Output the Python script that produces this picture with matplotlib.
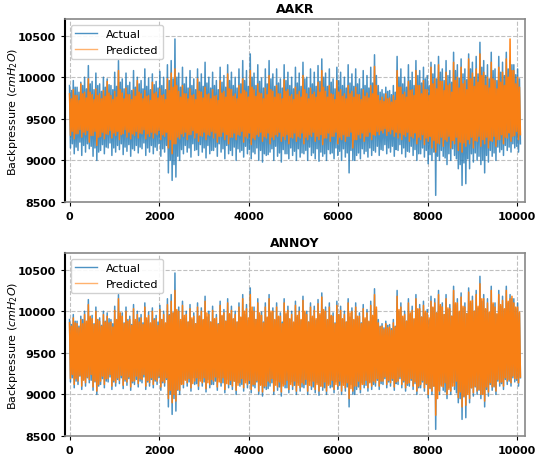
import numpy as np
import matplotlib
matplotlib.use('Agg')
import matplotlib.pyplot as plt

# last sample index on the x axis
n_samples = 10075

# measured backpressure (same in both panels): outer peak/trough per bin
actual_hi = [9900, 9960, 9880, 9940, 10000, 10140,
             9950, 10050, 9920, 10000, 9980, 9900, 10060,
             10200,
             9980, 10050, 9940, 10080, 10000, 9960, 10100, 9990, 10040, 9950, 10070, 10000, 10150,
             10200, 10460, 10050,
             10120, 10000, 10080, 9980, 10100, 10040, 10180, 10000, 10060, 9960, 10120, 10020, 10150, 10060, 10000, 10100, 10200, 10080,
             10280,
             10050, 10150, 9990, 10100, 10200, 10040, 10100, 9980, 10150, 10060, 10000, 10120, 10050, 10180, 10000, 10100, 10060, 10140,
             10220,
             10050, 10100, 9980, 10120, 10060, 10000, 10150, 10040, 10100, 9980, 10080, 10020, 10120,
             10270,
             9900, 9850, 9880, 9840, 9900,
             10250,
             10100, 10000, 10150, 10060, 10200, 10080, 10120, 10020, 10180,
             10150, 10250, 10100, 10200, 10080, 10300, 10150, 10220, 10100, 10280, 10180, 10250, 10420,
             10200, 10150, 10300, 10100, 10250, 10180, 10300, 10200, 10150, 10100]
actual_lo = [9150, 9080, 9120, 9060, 9100, 9140, 9050,
             9000,
             9120, 9080, 9150, 9060, 9100, 9130, 9070, 9110, 9050, 9120, 9090, 9140, 9060, 9100, 9080, 9120, 9050, 9100,
             8850, 8760, 8800,
             9000, 9080, 9100, 9040, 9120, 9060, 9100, 9030, 9080, 9120, 9050, 9100, 9020, 9080, 9060, 9000, 9100, 9040, 9080,
             9020, 9080, 9000, 8980, 9060, 9100, 9000, 9050, 8980, 9080, 9020, 9060, 9000, 9040, 9080, 9000, 9060, 9020, 8990,
             9050, 9000, 9080, 9020, 9060, 9000, 9040, 8850, 9000, 9060, 9020, 9080, 9040, 9060,
             9100, 9060, 9120, 9080, 9100, 9050, 9120, 9080, 9040, 9100, 9060, 9000, 9080, 9040, 8960, 9000,
             8580, 9000, 9050, 8950, 9000, 9060, 8900, 8700, 8720, 8900, 8980, 9000, 8950, 8850, 8980,
             9050, 9000, 9100, 9060, 9120, 9100, 9150, 9100]
# inner swing per bin
actual_hi2 = [9840, 9880, 9820, 9900, 9860, 9920, 9850, 9900, 9830, 9880, 9910, 9850, 9890, 9940, 9860,
              9900, 9840, 9880, 9920, 9860, 9890, 9850, 9910, 9870, 9900, 9850, 9960, 9980, 10000, 9880,
              9920, 9870, 9900, 9850, 9940, 9890, 9930, 9870, 9900, 9850, 9940, 9880, 9960, 9900, 9870,
              9920, 9960, 9890, 10000, 9900, 9950, 9870, 9920, 9980, 9890, 9930, 9870, 9960, 9900, 9860,
              9930, 9890, 9980, 9870, 9920, 9890, 9950, 10000, 9890, 9940, 9860, 9960, 9900, 9870, 9930,
              9890, 9920, 9860, 9900, 9870, 9930, 10020, 9820, 9800, 9830, 9790, 9820, 10000, 9920, 9880,
              9960, 9900, 10020, 9930, 9980, 9900, 10040, 9980, 10060, 9960, 10020, 9940, 10080, 9990, 10040,
              9970, 10100, 10000, 10040, 10120, 10020, 9980, 10080, 9960, 10060, 10020, 10100, 10150, 10030, 9980]
actual_lo2 = [9200, 9160, 9220, 9180, 9200, 9170, 9150, 9100, 9190, 9160, 9210, 9150, 9180, 9200, 9160,
              9190, 9140, 9180, 9160, 9210, 9150, 9180, 9160, 9200, 9140, 9180, 9000, 8950, 9050, 9130,
              9180, 9150, 9200, 9130, 9190, 9150, 9180, 9120, 9160, 9200, 9140, 9180, 9120, 9160, 9140,
              9120, 9170, 9130, 9100, 9150, 9120, 9080, 9070, 9140, 9170, 9090, 9130, 9080, 9150, 9110,
              9140, 9090, 9120, 9160, 9090, 9140, 9100, 9080, 9130, 9090, 9150, 9110, 9140, 9090, 9120,
              9000, 9090, 9140, 9110, 9150, 9120, 9170, 9130, 9190, 9150, 9170, 9130, 9190, 9150, 9110,
              9170, 9130, 9080, 9150, 9120, 9070, 9100, 9050, 9120, 9030, 9080, 9140, 9020, 8950, 8970,
              9020, 9080, 9090, 9050, 9000, 9060, 9120, 9090, 9160, 9130, 9180, 9160, 9200, 9170, 9200]

# AAKR prediction
aakr_hi = [9800, 9850, 9780, 9920, 9820, 9980, 9790, 9860, 9800, 9840, 9950, 9780, 9830, 10080, 9810,
           9870, 9790, 9850, 9960, 9800, 9840, 9780, 9940, 9820, 9860, 9790, 9980, 10050, 10100, 9830,
           9900, 9800, 9860, 9790, 9980, 9820, 9880, 9800, 9850, 9780, 9960, 9830, 10040, 9850, 9800,
           9900, 9980, 9820, 10080, 9850, 9920, 9800, 9870, 10020, 9830, 9900, 9800, 9970, 9850, 9790,
           9880, 9830, 10020, 9800, 9870, 9820, 9940, 10080, 9830, 9900, 9790, 9960, 9850, 9800, 9900,
           9830, 9880, 9790, 9850, 9810, 9900, 10130, 9780, 9760, 9800, 9750, 9780, 10080, 9880, 9820,
           9950, 9850, 10080, 9900, 9960, 9850, 10120, 9980, 10150, 9950, 10060, 9920, 10180, 10000, 10120,
           9960, 10220, 10050, 10100, 10280, 10060, 10000, 10180, 9960, 10120, 10060, 10220, 10460, 10080, 10000]
aakr_lo = [9300, 9260, 9320, 9280, 9310, 9220, 9300, 9180, 9290, 9260, 9310, 9270, 9300, 9250, 9320,
           9280, 9260, 9300, 9270, 9320, 9260, 9290, 9270, 9310, 9250, 9290, 9150, 9080, 9200, 9260,
           9290, 9250, 9310, 9270, 9230, 9290, 9250, 9300, 9270, 9220, 9290, 9250, 9200, 9280, 9250,
           9300, 9220, 9270, 9190, 9250, 9290, 9230, 9270, 9200, 9250, 9290, 9230, 9250, 9200, 9270,
           9230, 9270, 9200, 9250, 9290, 9230, 9250, 9190, 9270, 9230, 9290, 9200, 9250, 9230, 9290,
           9150, 9250, 9270, 9230, 9290, 9250, 9300, 9310, 9330, 9300, 9320, 9290, 9270, 9250, 9290,
           9230, 9270, 9200, 9250, 9190, 9230, 9150, 9100, 9200, 9170, 9230, 9150, 9200, 9120, 9100,
           9170, 9200, 9150, 9230, 9170, 9200, 9150, 9230, 9170, 9250, 9200, 9270, 9230, 9300, 9250]
aakr_hi2 = [9740, 9780, 9720, 9800, 9750, 9820, 9730, 9780, 9740, 9770, 9810, 9730, 9760, 9850, 9740,
            9790, 9730, 9770, 9820, 9740, 9770, 9720, 9800, 9750, 9780, 9730, 9840, 9880, 9900, 9760,
            9800, 9740, 9780, 9730, 9830, 9750, 9790, 9740, 9770, 9720, 9810, 9760, 9860, 9770, 9740,
            9800, 9840, 9760, 9880, 9770, 9810, 9740, 9790, 9850, 9760, 9800, 9740, 9830, 9770, 9730,
            9790, 9760, 9850, 9740, 9790, 9760, 9820, 9880, 9760, 9800, 9730, 9820, 9770, 9740, 9800,
            9760, 9790, 9730, 9770, 9750, 9800, 9900, 9720, 9710, 9740, 9700, 9720, 9880, 9790, 9760,
            9840, 9780, 9900, 9800, 9850, 9780, 9920, 9860, 9950, 9840, 9900, 9820, 9960, 9870, 9920,
            9850, 9980, 9890, 9940, 10020, 9900, 9870, 9980, 9860, 9940, 9900, 10000, 10080, 9920, 9880]
aakr_lo2 = [9350, 9320, 9370, 9340, 9360, 9300, 9350, 9280, 9340, 9320, 9360, 9330, 9350, 9310, 9370,
            9340, 9320, 9350, 9330, 9370, 9320, 9340, 9330, 9360, 9310, 9340, 9250, 9200, 9280, 9320,
            9340, 9310, 9360, 9330, 9300, 9340, 9310, 9350, 9330, 9290, 9340, 9310, 9280, 9330, 9310,
            9350, 9290, 9330, 9270, 9310, 9340, 9290, 9330, 9280, 9310, 9340, 9290, 9310, 9280, 9330,
            9290, 9330, 9280, 9310, 9340, 9290, 9310, 9270, 9330, 9290, 9340, 9280, 9310, 9290, 9340,
            9250, 9310, 9330, 9290, 9340, 9310, 9350, 9360, 9380, 9350, 9370, 9340, 9330, 9310, 9340,
            9290, 9330, 9280, 9310, 9270, 9290, 9240, 9210, 9280, 9250, 9290, 9240, 9280, 9220, 9210,
            9250, 9280, 9240, 9290, 9250, 9280, 9240, 9290, 9250, 9310, 9280, 9330, 9290, 9350, 9310]

# ANNOY prediction
annoy_hi = [9860, 9920, 9850, 9900, 9960, 10080,
            9910, 10000, 9880, 9960, 9940, 9870, 10010,
            10150,
            9940, 10000, 9900, 10030, 9960, 9920, 10050, 9950, 10000, 9910, 10020, 9960, 10080,
            10120, 10250, 10000,
            10070, 9960, 10030, 9940, 10050, 10000, 10120, 9960, 10010, 9920, 10070, 9980, 10100, 10010, 9960, 10050, 10150, 10030,
            10200,
            10000, 10100, 9950, 10050, 10150, 10000, 10050, 9940, 10100, 10010, 9960, 10070, 10000, 10130, 9960, 10050, 10010, 10090,
            10170,
            10000, 10050, 9940, 10070, 10010, 9960, 10100, 10000, 10050, 9940, 10030, 9980, 10070,
            10200,
            9860, 9820, 9850, 9810, 9860,
            10180,
            10050, 9960, 10100, 10010, 10150, 10030, 10070, 9980, 10120,
            10100, 10200, 10050, 10150, 10030, 10250, 10100, 10170, 10050, 10230, 10130, 10200, 10330,
            10150, 10100, 10250, 10050, 10200, 10130, 10250, 10150, 10100, 10050]
annoy_lo = [9190, 9120, 9160, 9100, 9140, 9180, 9090,
            9040,
            9160, 9120, 9190, 9100, 9140, 9170, 9110, 9150, 9090, 9160, 9130, 9180, 9100, 9140, 9120, 9160, 9090, 9140,
            8950, 8900, 8920,
            9050, 9120, 9140, 9080, 9160, 9100, 9140, 9070, 9120, 9160, 9090, 9140, 9060, 9120, 9100, 9050, 9140, 9080, 9120,
            9060, 9120, 9040, 9030, 9100, 9140, 9040, 9090, 9030, 9120, 9060, 9100, 9040, 9080, 9120, 9040, 9100, 9060, 9040,
            9090, 9040, 9120, 9060, 9100, 9040, 9080, 8950, 9040, 9100, 9060, 9120, 9080, 9100,
            9140, 9100, 9160, 9120, 9140, 9090, 9160, 9120, 9080, 9140, 9100, 9040, 9120, 9080, 9000, 9040,
            8750, 9040, 9090, 9000, 9040, 9100, 8960, 8850, 8870, 8950, 9020, 9040, 9000, 8920, 9030,
            9090, 9040, 9140, 9100, 9160, 9140, 9190, 9140]
annoy_hi2 = [9820, 9860, 9800, 9850, 9880, 9940, 9840, 9900, 9820, 9870, 9860, 9810, 9900, 9980, 9850,
             9880, 9830, 9900, 9870, 9840, 9920, 9860, 9890, 9830, 9900, 9860, 9950, 9980, 10020, 9900,
             9950, 9870, 9920, 9850, 9940, 9900, 9980, 9870, 9910, 9840, 9950, 9880, 9970, 9910, 9870,
             9930, 10000, 9920, 10050, 9900, 9980, 9860, 9930, 10000, 9900, 9940, 9850, 9980, 9910, 9870,
             9950, 9900, 10000, 9870, 9940, 9910, 9970, 10020, 9900, 9950, 9850, 9960, 9910, 9870, 9980,
             9900, 9940, 9850, 9920, 9880, 9950, 10050, 9810, 9780, 9800, 9770, 9810, 10020, 9940, 9880,
             9980, 9910, 10030, 9930, 10000, 9920, 10050, 9980, 10080, 9960, 10040, 9940, 10100, 10000, 10060,
             9970, 10120, 10000, 10060, 10150, 10030, 9990, 10100, 9970, 10080, 10030, 10120, 10180, 10050, 9990]
annoy_lo2 = [9240, 9190, 9230, 9170, 9210, 9240, 9160, 9120, 9220, 9190, 9240, 9170, 9200, 9230, 9180,
             9210, 9160, 9220, 9190, 9240, 9170, 9200, 9180, 9220, 9160, 9200, 9050, 9000, 9060, 9120,
             9170, 9190, 9130, 9200, 9160, 9200, 9140, 9180, 9210, 9150, 9200, 9130, 9170, 9160, 9110,
             9190, 9140, 9170, 9120, 9170, 9110, 9100, 9160, 9190, 9110, 9150, 9100, 9170, 9120, 9160,
             9110, 9140, 9180, 9110, 9160, 9120, 9100, 9150, 9110, 9170, 9120, 9160, 9110, 9140, 9070,
             9100, 9160, 9120, 9170, 9140, 9160, 9190, 9160, 9210, 9170, 9190, 9150, 9210, 9170, 9130,
             9190, 9150, 9100, 9170, 9130, 9080, 9100, 8950, 9100, 9140, 9060, 9100, 9160, 9030, 8980,
             9000, 9080, 9100, 9060, 9000, 9090, 9140, 9100, 9180, 9150, 9200, 9180, 9220, 9190, 9210]


def swings(hi, lo, hi2, lo2):
    # outer peak, outer trough, inner peak, inner trough ... in sample order
    return np.column_stack((hi, lo, hi2, lo2)).ravel()


actual = swings(actual_hi, actual_lo, actual_hi2, actual_lo2)
x = np.linspace(0, n_samples, len(actual))

panels = [('AAKR', swings(aakr_hi, aakr_lo, aakr_hi2, aakr_lo2)),
          ('ANNOY', swings(annoy_hi, annoy_lo, annoy_hi2, annoy_lo2))]

fig = plt.figure(figsize=(5.39, 4.6), dpi=100)
boxes = [[0.1206, 0.5587, 0.8534, 0.3978],
         [0.1206, 0.0500, 0.8534, 0.3978]]

for box, (name, pred) in zip(boxes, panels):
    ax = fig.add_axes(box)
    ax.plot(x, actual, color='#1f77b4', lw=1.1, alpha=0.8, label='Actual')
    ax.plot(x, pred, color='#ff7f0e', lw=1.1, alpha=0.97, label='Predicted')
    ax.set_ylim(8500, 10700)
    ax.set_xlim(-101, 10177)
    ax.set_yticks([8500, 9000, 9500, 10000, 10500])
    ax.set_xticks([0, 2000, 4000, 6000, 8000, 10000])
    ax.grid(True, ls='--', color='#c0c0c0', lw=0.8)
    ax.set_axisbelow(True)
    ax.set_title(name, fontsize=9, fontweight='bold', pad=5)
    ax.set_ylabel('Backpressure ($cmH_2O$)', fontsize=8)
    ax.yaxis.set_label_coords(-0.098, 0.5)
    ax.tick_params(labelsize=8, length=3)
    for lab in ax.get_xticklabels() + ax.get_yticklabels():
        lab.set_fontweight('bold')
    for side in ['top', 'right', 'bottom']:
        ax.spines[side].set_color('#888888')
        ax.spines[side].set_linewidth(1.2)
    ax.spines['left'].set_color('black')
    ax.spines['left'].set_linewidth(1.5)
    leg = ax.legend(loc='upper left', fontsize=8, framealpha=0.9)
    for h in leg.get_lines():
        h.set_linewidth(1.0)
    leg.get_lines()[1].set_alpha(0.6)

fig.savefig('out.png', dpi=100)
